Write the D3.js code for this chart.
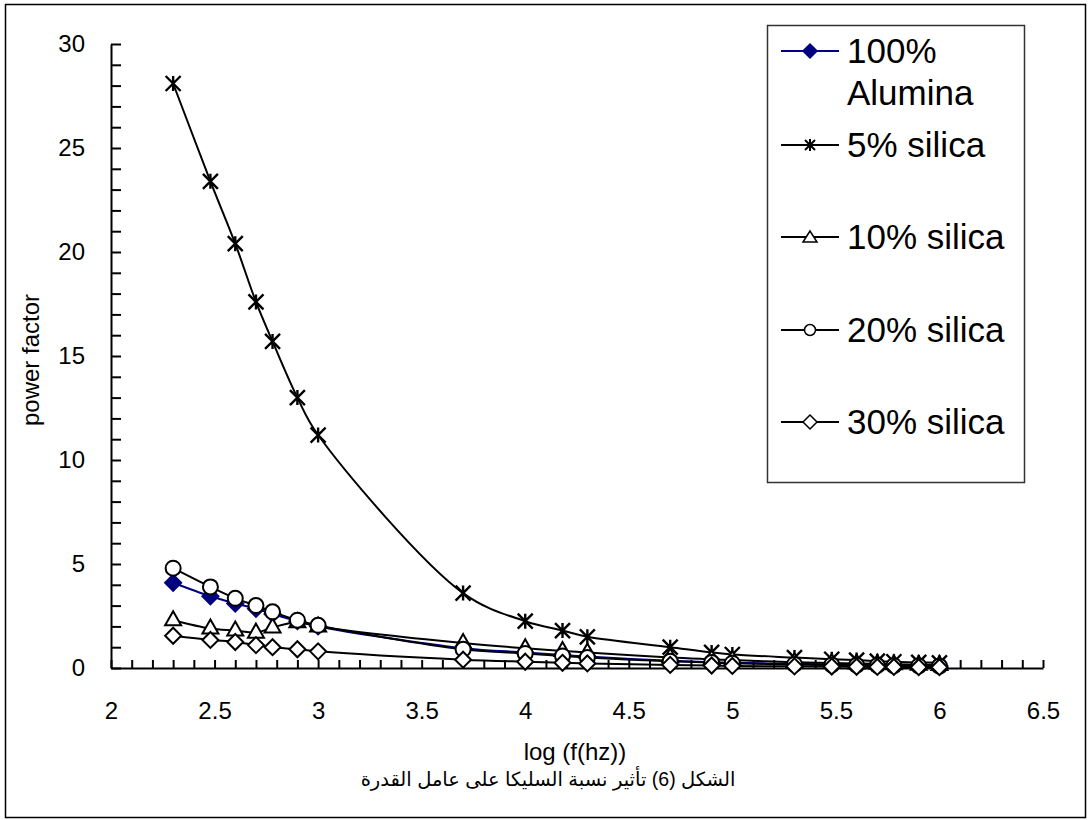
<!DOCTYPE html>
<meta charset="utf-8">
<style>

body {
  margin: 0;
  background: #fff;
}

text {
  font-family: Arial, "Liberation Sans", "DejaVu Sans", sans-serif;
  fill: #000;
}

.axis path,
.axis line {
  stroke: #000;
  stroke-width: 2;
  fill: none;
}

.axis text {
  font-size: 24px;
}

.series {
  fill: none;
  stroke-width: 2;
}

</style>
<body>
<script src="https://d3js.org/d3.v7.min.js"></script>
<script>

/*
  Data
*/

var logF = [2.3, 2.48, 2.6, 2.7, 2.78, 2.9, 3.0, 3.7, 4.0, 4.18, 4.3,
            4.7, 4.9, 5.0, 5.3, 5.48, 5.6, 5.7, 5.78, 5.9, 6.0];

var alumina  = [4.1, 3.45, 3.1, 2.85, 2.6, 2.25, 2.0, 0.95, 0.75, 0.62, 0.55,
                0.35, 0.28, 0.25, 0.2, 0.17, 0.15, 0.13, 0.12, 0.1, 0.1];
var silica5  = [28.1, 23.4, 20.4, 17.6, 15.7, 13.0, 11.2, 3.6, 2.25, 1.8, 1.5,
                1.0, 0.75, 0.65, 0.5, 0.42, 0.38, 0.33, 0.3, 0.27, 0.25];
var silica10 = [2.3, 1.9, 1.8, 1.7, 1.95, 2.2, 2.0, 1.2, 0.95, 0.82, 0.75,
                0.5, 0.42, 0.38, 0.28, 0.24, 0.22, 0.2, 0.18, 0.16, 0.15];
var silica20 = [4.8, 3.9, 3.35, 3.0, 2.7, 2.3, 2.05, 0.9, 0.7, 0.58, 0.5,
                0.32, 0.26, 0.23, 0.17, 0.15, 0.13, 0.12, 0.11, 0.1, 0.09];
var silica30 = [1.55, 1.35, 1.25, 1.1, 1.0, 0.9, 0.8, 0.4, 0.3, 0.25, 0.22,
                0.15, 0.12, 0.1, 0.08, 0.07, 0.06, 0.05, 0.05, 0.04, 0.04];

var seriesNames = ["100% Alumina", "5% silica", "10% silica", "20% silica", "30% silica"];
var xTicks = [2, 2.5, 3, 3.5, 4, 4.5, 5, 5.5, 6, 6.5];
var yTicks = [0, 5, 10, 15, 20, 25, 30];

var xTitle = "log (f(hz))",
    yTitle = "power factor",
    caption = "الشكل (6) تأثير نسبة السليكا على عامل القدرة";

/*
  Series table
*/

var series = [
  { name: seriesNames[0], values: alumina,  color: "#000080", marker: "diamond",  fill: "#000080" },
  { name: seriesNames[1], values: silica5,  color: "#000",    marker: "star",     fill: "none" },
  { name: seriesNames[2], values: silica10, color: "#000",    marker: "triangle", fill: "#fff" },
  { name: seriesNames[3], values: silica20, color: "#000",    marker: "circle",   fill: "#fff" },
  { name: seriesNames[4], values: silica30, color: "#000",    marker: "diamond",  fill: "#fff" }
];

var width = 1089,
    height = 820;

var plot = { left: 111, right: 1043, top: 44, bottom: 668 };

var x = d3.scaleLinear().domain([2, 6.5]).range([plot.left, plot.right]);
var y = d3.scaleLinear().domain([0, 30]).range([plot.bottom, plot.top]);

var svg = d3.select("body").append("svg")
    .attr("width", width)
    .attr("height", height);

// outer frame
svg.append("rect")
    .attr("x", 5.5)
    .attr("y", 4.5)
    .attr("width", 1080)
    .attr("height", 813)
    .attr("fill", "#fff")
    .attr("stroke", "#000")
    .attr("stroke-width", 1.5);

/*
  Axes - ticks point inward, minor every 0.1 / 1
*/

var xAxis = d3.axisBottom(x)
    .tickValues(d3.range(20, 66).map(function(d) { return d / 10; }))
    .tickSizeInner(-8)
    .tickSizeOuter(0)
    .tickPadding(34)
    .tickFormat(function(d) {
      var hit = xTicks.filter(function(t) { return Math.abs(t - d) < 1e-6; });
      return hit.length ? d3.format("")(hit[0]) : "";
    });

svg.append("g")
    .attr("class", "axis")
    .attr("transform", "translate(0," + plot.bottom + ")")
    .call(xAxis);

var yAxis = d3.axisLeft(y)
    .tickValues(d3.range(0, 31))
    .tickSizeInner(-10)
    .tickSizeOuter(0)
    .tickPadding(26)
    .tickFormat(function(d) { return yTicks.indexOf(d) >= 0 ? d : ""; });

svg.append("g")
    .attr("class", "axis")
    .attr("transform", "translate(" + plot.left + ",0)")
    .call(yAxis);

svg.append("text")
    .attr("x", 575)
    .attr("y", 760)
    .attr("text-anchor", "middle")
    .style("font-size", "24px")
    .text(xTitle);

svg.append("text")
    .attr("transform", "translate(39,360) rotate(-90)")
    .attr("text-anchor", "middle")
    .style("font-size", "24px")
    .text(yTitle);

svg.append("text")
    .attr("x", 548)
    .attr("y", 786)
    .attr("text-anchor", "middle")
    .attr("direction", "rtl")
    .style("font-size", "19.5px")
    .text(caption);

/*
  Markers
*/

function drawMarker(sel, type, color, fill) {
  if (type === "star") {
    var s = 7.5;
    sel.append("path")
        .attr("d", "M" + (-s) + "," + (-s) + "L" + s + "," + s +
                   "M" + (-s) + "," + s + "L" + s + "," + (-s) +
                   "M0," + (-s) + "L0," + s)
        .attr("stroke", color)
        .attr("stroke-width", 2.4)
        .attr("fill", "none");
  } else if (type === "circle") {
    sel.append("circle")
        .attr("r", 7.5)
        .attr("stroke", color)
        .attr("stroke-width", 2)
        .attr("fill", fill);
  } else if (type === "triangle") {
    sel.append("path")
        .attr("d", "M0,-9L8,5L-8,5Z")
        .attr("stroke", color)
        .attr("stroke-width", 2)
        .attr("fill", fill);
  } else {
    sel.append("path")
        .attr("d", "M0,-8L8,0L0,8L-8,0Z")
        .attr("stroke", color)
        .attr("stroke-width", 2)
        .attr("fill", fill);
  }
}

var line = d3.line()
    .x(function(d) { return x(d[0]); })
    .y(function(d) { return y(d[1]); })
    .curve(d3.curveCatmullRom.alpha(0.5));

series.forEach(function(s) {
  var pts = logF.map(function(f, i) { return [f, s.values[i]]; });

  svg.append("path")
      .attr("class", "series")
      .attr("d", line(pts))
      .attr("stroke", s.color);

  svg.append("g").selectAll("g")
      .data(pts)
      .enter().append("g")
      .attr("transform", function(d) { return "translate(" + x(d[0]) + "," + y(d[1]) + ")"; })
      .each(function() { drawMarker(d3.select(this), s.marker, s.color, s.fill); });
});

/*
  Legend
*/

var legend = svg.append("g");

legend.append("rect")
    .attr("x", 767.5)
    .attr("y", 25.5)
    .attr("width", 257)
    .attr("height", 457)
    .attr("fill", "#fff")
    .attr("stroke", "#333")
    .attr("stroke-width", 1.5);

var legendY = [51, 145, 237, 330, 422];

series.forEach(function(s, i) {
  var g = legend.append("g")
      .attr("transform", "translate(0," + legendY[i] + ")");

  g.append("line")
      .attr("x1", 781).attr("x2", 839)
      .attr("stroke", s.color)
      .attr("stroke-width", 2);

  var m = g.append("g").attr("transform", "translate(810,0)");
  if (s.marker === "star") {
    m.append("path")
        .attr("d", "M-5,-5L5,5M-5,5L5,-5M0,-6L0,6")
        .attr("stroke", "#000").attr("stroke-width", 2);
  } else if (s.marker === "circle") {
    m.append("circle").attr("r", 5.5)
        .attr("stroke", "#000").attr("stroke-width", 1.5).attr("fill", "#fff");
  } else if (s.marker === "triangle") {
    m.append("path").attr("d", "M0,-6L7,5L-7,5Z")
        .attr("stroke", "#000").attr("stroke-width", 1.5).attr("fill", "#fff");
  } else {
    m.append("path").attr("d", "M0,-7L7,0L0,7L-7,0Z")
        .attr("stroke", s.color).attr("stroke-width", 1.5).attr("fill", s.fill);
  }

  var words = s.name === "100% Alumina" ? ["100%", "Alumina"] : [s.name];
  var t = g.append("text")
      .attr("x", 847)
      .attr("y", 12)
      .style("font-size", "35px");
  words.forEach(function(w, j) {
    t.append("tspan")
        .attr("x", 847)
        .attr("dy", j === 0 ? 0 : 42)
        .text(w);
  });
});

</script>
